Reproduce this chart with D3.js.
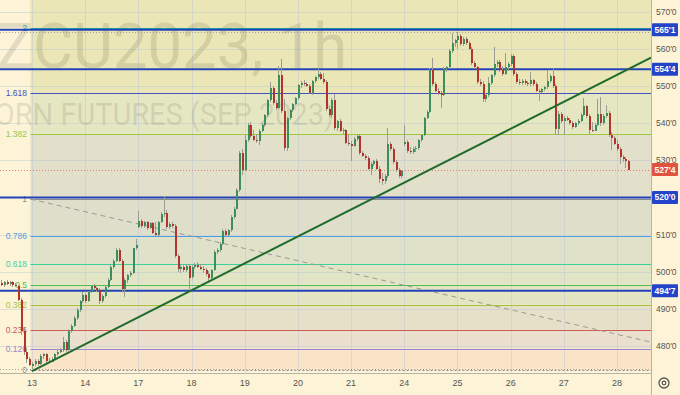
<!DOCTYPE html>
<html><head><meta charset="utf-8">
<script src="https://cdn.jsdelivr.net/npm/d3@7"></script>
<style>html,body{margin:0;padding:0;background:#fdf4d8;overflow:hidden}svg{display:block}</style>
</head><body><svg id="c" width="680" height="395"></svg>
<script>
// ---------- DATA ----------
const dayLabels = ["13","14","17","18","19","20","21","24","25","26","27","28"];
const dayStartBars = [12,31,50,69,88,107,126,145,164,183,202,221];
// hourly candles [open, high, low, close], one array per session day
const day12 = [[496.5,497.5,496,497],[497,497.75,496.25,496.5],[496.5,497.5,496,497.25],[497.25,497.75,496.5,496.75],[496.75,497.5,496.25,497.25],[497.25,497.5,496,496.5],[496.5,497,495.75,496.25],[496.25,496.5,492,492.5],[492.5,493,483,484],[484,485,477.5,478.5],[478.5,479.5,475.5,476.5],[476.5,477,474.5,475]];
const day13 = [[474.5,475.75,473.75,475.25],[475.25,476.5,474.5,476],[476,476.5,474.75,475.25],[475.25,477.75,475,477.25],[477.25,478.25,476.5,477.75],[477.75,478,475.5,476],[476,476.75,475.5,475.75],[475.75,477,475.75,476.5],[476.5,478,476.25,477.75],[477.75,479,477.25,478.5],[478.5,479.5,478,479],[479,482.5,478.5,481],[481,481.5,478.5,479],[479,484.5,478.75,484],[484,486,483.5,485.5],[485.5,488,485,487.5],[487.5,490.25,487,489.75],[489.75,492.5,489.25,492],[492,494.5,491.5,493.75]];
const day14 = [[493.75,494.25,491.5,492],[492,494.75,491.75,494.5],[494.5,496.5,494.25,496.25],[496.25,496.75,495,495.5],[495.5,496,494.5,495],[495,495.5,491.25,492],[492,494,491.5,493.5],[493.5,496.25,493,496],[496,498.25,495.5,497.75],[497.75,501.75,497.5,501.25],[501.25,503.5,500.75,503],[503,506.5,502.5,505.75],[505.75,506.25,502.5,503],[503,503.5,494.75,495.25],[495.25,498.25,493.25,497.75],[497.75,499.5,497,499],[499,500.25,498.5,499.75],[499.75,506.5,499.5,506.25],[506.25,508.75,505.75,507.25]];
const day17 = [[512,516.25,511.75,513.75],[513.75,514.25,511.75,512.25],[512.25,513.75,511.75,513.25],[513.25,513.75,511.25,511.75],[511.75,513.5,511.5,513],[513,513.5,510.25,510.5],[510.5,513.5,509.5,510],[510,513.75,509.5,513.5],[513.5,516,513,515.5],[515.5,520.25,514.75,515.75],[515.75,516.5,511.5,512],[512,513.5,511.5,512.75],[512.75,513.25,511.75,512.25],[512.25,512.75,503.75,504.25],[504.25,504.75,500,500.75],[500.75,501.75,499.75,501.25],[501.25,501.75,500,500.5],[500.5,502,500,501.5],[501.5,502,495.25,498.25]];
const day18 = [[498.5,501.75,498,501.25],[501.25,502.25,500.75,501.75],[501.75,502.5,501,501.25],[501.25,502,500.5,500.75],[500.75,501.5,499.75,500.5],[500.5,501,498.75,499.25],[499.25,500.25,497.25,498.25],[498.25,500.75,497.75,500.5],[500.5,505.75,500.25,505.25],[505.25,506.25,504.75,505.75],[505.75,508,505.25,507.5],[507.5,511.5,507.25,511],[511,511.5,509.5,510],[510,511.5,509.5,511.25],[511.25,515.25,510.75,514.75],[514.75,517.5,514.25,517],[517,522.5,516.75,522],[522,532.5,521.5,532],[532,533,526,527.5]];
const day19 = [[527.5,536.75,527,535.5],[535.5,540,535,539.5],[539.5,540.25,536,536.5],[536.5,538.25,535.25,535.5],[535.5,537,534.75,535.25],[535.25,538.5,534,538],[538,540,537.5,539.5],[539.5,542.5,539,542.25],[542.25,546.5,541.75,546.25],[546.25,551,545.75,549.5],[549.5,550,545,545.5],[545.5,546.25,543.5,544],[544,555.5,543.75,553],[553,557.25,542.75,543.25],[543.25,546.5,532.5,533.25],[533.25,541.75,532.5,541.5],[541.5,543.75,540.75,543.5],[543.5,545.5,543,545.25],[545.25,547,545,546.75]];
const day20 = [[546.75,550.5,546.25,550.25],[550.25,551.25,549.5,550.75],[550.75,551.5,550,550.5],[550.5,551,549.75,550],[550,550.5,547.75,548],[548,551.5,547.5,551.25],[551.25,552.75,550.75,552.5],[552.5,554.5,552,553.25],[553.25,553.75,551.5,552],[552,553.5,550.5,551],[551,551.5,543.25,543.75],[543.75,544.5,541.75,542.25],[542.25,546.75,541.5,546.25],[546.25,547.75,538.25,538.75],[538.75,540.75,537.75,540.5],[540.5,541,537.5,538],[538,538.75,537,538.25],[538.25,538.5,534.25,534.75],[534.75,536.75,533.75,534.25]];
const day21 = [[534.25,535.25,529.75,533.75],[533.75,536.25,533.5,535.75],[535.75,537,535.25,536.5],[536.5,537,531.5,532],[532,532.5,530.75,531.25],[531.25,531.75,530,530.5],[530.5,531.25,527.25,527.75],[527.75,529.5,526,529],[529,530,528.5,529.75],[529.75,530.25,527.25,527.75],[527.75,528.5,524,525],[525,526.5,523.25,524.5],[524.5,526.25,523.5,525.75],[525.75,538.75,525.25,534.5],[534.5,535,532.5,533],[533,533.5,529,529.5],[529.5,530,526.75,527.25],[527.25,528,525.25,525.75],[525.75,527.5,525.25,527]];
const day24 = [[534.25,539.5,533.75,535],[535,535.5,532,532.5],[532.5,533.5,531.75,532.25],[532.25,533.5,531.75,533],[533,533.75,532.25,533.25],[533.25,535.75,532.75,535.5],[535.5,537,535,536.75],[536.75,541.75,536.5,541.5],[541.5,543.5,541,543],[543,554.75,542.75,554.25],[554.25,557.5,550,550.5],[550.5,551,548.25,548.75],[548.75,549.5,547.5,548],[548,548.75,544,547.5],[547.5,555,547.25,554.5],[554.5,555.25,553.75,555],[555,560,554.5,559.5],[559.5,564.25,559,561.5],[561.5,562.75,560.5,562.25]];
const day25 = [[562.25,564.5,560,563.5],[563.5,564,560.75,561.25],[561.25,563.25,560.75,562.75],[562.75,563.25,561,561.5],[561.5,562,559.75,560],[560,560.5,555.75,556.25],[556.25,556.75,554.5,555],[555,555.5,550.5,551],[551,551.75,550,550.5],[550.5,551.25,545.75,546.5],[546.5,548,545.75,547.5],[547.5,552.5,547,550.75],[550.75,553.25,550.25,553],[553,560.5,552.5,556],[556,557,555,556.5],[556.5,557,553.75,554.25],[554.25,555.25,552.75,553.25],[553.25,559,553,555],[555,556.5,554,556]];
const day26 = [[556,558.5,555.5,558],[558,558.5,552.75,553.25],[553.25,553.75,550.5,551],[551,551.75,550.25,550.75],[550.75,551.75,550.25,551.25],[551.25,551.75,550.25,550.75],[550.75,551.25,550,550.5],[550.5,553.75,550,551.5],[551.5,552,550,550.5],[550.5,551,548.25,548.75],[548.75,549.25,546,548.5],[548.5,549.5,548,549.25],[549.25,550,548.75,549.75],[549.75,554.25,549.25,551.25],[551.25,553.25,550.75,552.75],[552.75,554.5,549.5,550],[550,550.5,536.75,538.5],[538.5,543.25,536.75,542.5],[542.5,543,540,540.5]];
const day27 = [[540.5,542,536.75,541.5],[541.5,542,540.5,540.75],[540.75,541.25,539.5,540],[540,540.5,538.5,539],[539,540.25,538.75,540],[540,541,539.5,540.5],[540.5,542.75,540.25,542.25],[542.25,546.75,542,544.5],[544.5,545,541.5,542],[542,542.5,537,538.25],[538.25,540.25,537.5,538],[538,540,537.75,539.5],[539.5,546.5,539.25,542.5],[542.5,547,539.25,540],[540,542.5,539.5,542],[542,545,541.5,542.75],[542.75,543.25,536.25,536.75],[536.75,537.5,532.75,536],[536,536.5,534,534.5]];
const day28 = [[534.5,535.5,532.5,533],[533,533.5,529,531],[531,531.5,529.5,530.25],[530.25,531,528,529.75],[529.75,530,527.25,527.5]];

const priceTicks = [480,490,500,510,520,530,540,550,560,570];
const markedPrices = [565.125, 554.5, 520, 494.875];
const lastPrice = 527.5;
const fibAnchors = [{bar:11.45, price:519.55},{bar:276.6, price:473.5}];
const fibLevels = [0,0.126,0.236,0.382,0.5,0.618,0.786,1,1.382,1.618,2];
const fibLabels = ["0","0.126","0.236","0.382","0.5","0.618","0.786","1","1.382","1.618","2"];
const fibColors = ["#8a8c94","#9a86d2","#cf5a52","#a8c23e","#52b852","#3fcf9a","#4c9fe0","#8a8c94","#9cc746","#4350c4","#1ea89c"];
const fibBandColors = ["#fae4c7","#ebdfcd","#e6e0c8","#e4e5c3","#e1e5c6","#dfe2c9","#dfdecb","#e2dfca","#e5e7c2","#ebe6b5","#ebe6b5"];
const trendAnchors = [{bar:12, price:473.25},{bar:221, price:553.0}];

// ---------- SETUP ----------
const W = 680, H = 395, plotR = 651, plotB = 373;
const candles = [].concat(day12,day13,day14,day17,day18,day19,day20,day21,day24,day25,day26,day27,day28)
  .map((d,i)=>({i, o:d[0], h:d[1], l:d[2], c:d[3]}));
const x = d3.scaleLinear().domain([12,221]).range([32,617]);
const y = d3.scaleLinear().domain([480,570]).range([346,11.7]);
const fmt = p => { const f = Math.floor(p); return f + "'" + Math.round((p-f)*8); };

const svg = d3.select("#c");
svg.append("rect").attr("width",W).attr("height",H).attr("fill","#fdf4d8");
svg.append("defs").append("clipPath").attr("id","pc").append("rect").attr("width",plotR).attr("height",plotB);
const plot = svg.append("g").attr("clip-path","url(#pc)");

// fib bands
const f0 = fibAnchors[1].price, f1 = fibAnchors[0].price;
const fibP = lv => f0 + lv*(f1-f0);
const fx0 = x(fibAnchors[0].bar);
fibLevels.forEach((lv,k)=>{
  const top = k < fibLevels.length-1 ? y(fibP(fibLevels[k+1])) : 0;
  const bot = y(fibP(lv));
  plot.append("rect").attr("x",fx0).attr("width",plotR-fx0).attr("y",top).attr("height",bot-top)
    .attr("fill",fibBandColors[k]);
});
plot.append("rect").attr("x",fx0).attr("width",plotR-fx0).attr("y",0).attr("height",y(fibP(2)))
  .attr("fill",fibBandColors[fibBandColors.length-1]);

// grid
const grid = plot.append("g").attr("stroke","rgba(185,198,214,0.45)").attr("stroke-width",1);
dayStartBars.forEach(b=>{ const xx=Math.round(x(b))+0.5; grid.append("line").attr("x1",xx).attr("x2",xx).attr("y1",0).attr("y2",plotB); });
priceTicks.forEach(p=>{ const yy=Math.round(y(p))+0.5; grid.append("line").attr("x1",0).attr("x2",plotR).attr("y1",yy).attr("y2",yy); });

// watermark
plot.append("text").attr("x",-3).attr("y",68).attr("font-family","Roboto, 'Liberation Sans', sans-serif")
  .attr("font-size",63).attr("fill","rgba(95,95,70,0.17)").attr("textLength",350).attr("lengthAdjust","spacingAndGlyphs")
  .text("ZCU2023, 1h");
plot.append("text").attr("x",-24).attr("y",125).attr("font-family","Roboto, 'Liberation Sans', sans-serif")
  .attr("font-size",32).attr("fill","rgba(95,95,70,0.17)").attr("textLength",358).attr("lengthAdjust","spacingAndGlyphs")
  .text("CORN FUTURES (SEP 2023)");

// fib level lines + labels
fibLevels.forEach((lv,k)=>{
  const yy = Math.round(y(fibP(lv)))+0.5;
  plot.append("line").attr("x1",fx0).attr("x2",plotR).attr("y1",yy).attr("y2",yy)
    .attr("stroke",fibColors[k]).attr("stroke-width",1).attr("stroke-dasharray", lv===0 ? "2,2" : null);
  plot.append("text").attr("x",27).attr("y",yy).attr("dy","0.35em").attr("text-anchor","end")
    .attr("font-family","'Liberation Sans', Arial, sans-serif").attr("font-size",8.5).attr("fill",fibColors[k])
    .text(fibLabels[k]);
});
// fib diagonal dashed
plot.append("line").attr("x1",x(fibAnchors[0].bar)).attr("y1",y(fibAnchors[0].price))
  .attr("x2",x(fibAnchors[1].bar)).attr("y2",y(fibAnchors[1].price))
  .attr("stroke","#9a9a94").attr("stroke-width",1).attr("stroke-dasharray","5,4");

// high / low / last price dotted
const hi = d3.max(candles,d=>d.h), lo = d3.min(candles,d=>d.l);
[[hi,"#a8a49a"],[lo,"#a8a49a"],[lastPrice,"#e0806c"]].forEach(([p,col])=>{
  const yy=Math.round(y(p))+0.5;
  plot.append("line").attr("x1",0).attr("x2",plotR).attr("y1",yy).attr("y2",yy)
    .attr("stroke",col).attr("stroke-width",1).attr("stroke-dasharray","1,2");
});

// horizontal marked lines
markedPrices.forEach(p=>{
  const yy=y(p);
  plot.append("line").attr("x1",0).attr("x2",plotR).attr("y1",yy).attr("y2",yy)
    .attr("stroke","#2343b8").attr("stroke-width",2);
});

// candles
const cg = plot.append("g").attr("shape-rendering","crispEdges");
candles.forEach(d=>{
  const cx = Math.round(x(d.i));
  cg.append("line").attr("x1",cx+0.5).attr("x2",cx+0.5).attr("y1",y(d.h)).attr("y2",y(d.l))
    .attr("stroke","#9b9b93").attr("stroke-width",1);
  const up = d.c >= d.o;
  const t = y(Math.max(d.o,d.c)), b = y(Math.min(d.o,d.c));
  cg.append("rect").attr("x",cx).attr("width",2).attr("y",t).attr("height",Math.max(1,b-t))
    .attr("fill", up ? "#3c8f5c" : "#b3342c");
});

// trend line extended right
const tA = trendAnchors[0], tB = trendAnchors[1];
const slope = (tB.price-tA.price)/(tB.bar-tA.bar);
const endBar = x.invert(plotR);
plot.append("line").attr("x1",x(tA.bar)).attr("y1",y(tA.price))
  .attr("x2",x(endBar)).attr("y2",y(tA.price + slope*(endBar-tA.bar)))
  .attr("stroke","#1f6b2a").attr("stroke-width",2);

// axes
svg.append("rect").attr("x",plotR).attr("y",0).attr("width",W-plotR).attr("height",H).attr("fill","#fdf4d8");
svg.append("rect").attr("x",0).attr("y",plotB).attr("width",W).attr("height",H-plotB).attr("fill","#fdf4d8");
svg.append("line").attr("x1",plotR+0.5).attr("x2",plotR+0.5).attr("y1",0).attr("y2",H).attr("stroke","#b9b4a4");
svg.append("line").attr("x1",0).attr("x2",plotR).attr("y1",plotB+0.5).attr("y2",plotB+0.5).attr("stroke","#b9b4a4");

const axisFont = "'Liberation Sans', Arial, sans-serif";
priceTicks.filter(p=>p!==520).forEach(p=>{
  svg.append("text").attr("x",656).attr("y",y(p)).attr("dy","0.35em").attr("font-family",axisFont)
    .attr("font-size",8.5).attr("fill","#555").text(fmt(p));
});
dayStartBars.forEach((b,k)=>{
  svg.append("text").attr("x",x(b)).attr("y",386).attr("text-anchor","middle").attr("font-family",axisFont)
    .attr("font-size",9).attr("fill","#555").text(dayLabels[k]);
});
const tag = (p,col)=>{
  const yy=y(p);
  svg.append("rect").attr("x",652).attr("y",yy-6.5).attr("width",26).attr("height",13).attr("rx",1).attr("fill",col);
  svg.append("text").attr("x",665).attr("y",yy).attr("dy","0.35em").attr("text-anchor","middle").attr("font-family",axisFont)
    .attr("font-size",8.5).attr("font-weight","bold").attr("fill","#fff").text(fmt(p));
};
markedPrices.forEach(p=>tag(p,"#2343c8"));
tag(lastPrice,"#e0533f");

// settings icon
svg.append("circle").attr("cx",664).attr("cy",383).attr("r",5).attr("fill","none").attr("stroke","#555").attr("stroke-width",1.3);
svg.append("circle").attr("cx",664).attr("cy",383).attr("r",1.8).attr("fill","none").attr("stroke","#555").attr("stroke-width",1.2);
</script></body></html>
